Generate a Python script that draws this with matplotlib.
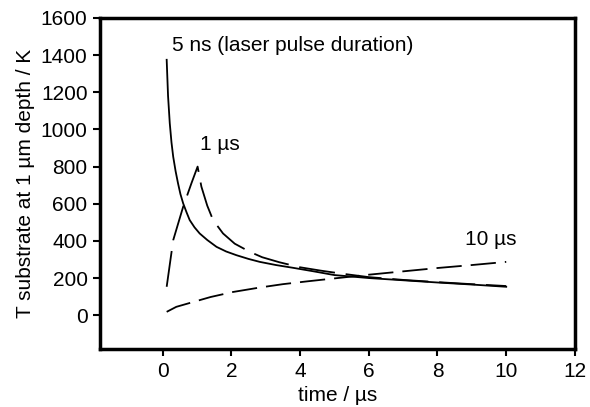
import numpy as np
import matplotlib.pyplot as plt

plt.rcParams['font.family'] = ['Liberation Sans', 'DejaVu Sans']

# 5 ns (laser pulse duration)
x_5ns = [0.12, 0.16, 0.21, 0.26, 0.31, 0.38, 0.45, 0.52, 0.6, 0.7, 0.79, 0.93, 1.08, 1.3, 1.57, 1.85,
         2.15, 2.5, 2.83, 3.3, 3.8, 4.4, 5.0, 6.0, 7.0, 8.0, 9.0, 10.0]
T_5ns = [1375, 1180, 1033, 930, 853, 775, 710, 652, 602, 553, 512, 473, 440, 405, 368, 343,
         323, 303, 287, 270, 255, 236, 216, 200, 188, 176, 165, 153]

# 1 us
x_1us = [0.12, 0.31, 0.6, 0.84, 1.02, 1.13, 1.3, 1.47, 1.76, 2.1, 2.54, 2.9, 3.4, 4.0, 4.6, 5.2,
         6.0, 7.0, 8.0, 9.0, 10.0]
T_1us = [153, 404, 584, 710, 800, 692, 590, 512, 440, 385, 341, 312, 285, 258, 240, 224,
         205, 190, 178, 167, 157]

# 10 us
x_10us = [0.12, 0.4, 0.89, 1.4, 2.05, 2.83, 3.5, 4.2, 5.0, 6.0, 7.0, 8.0, 9.0, 10.0]
T_10us = [18, 45, 71, 98, 125, 149, 167, 182, 198, 218, 236, 254, 270, 287]

xticks = [0, 2, 4, 6, 8, 10, 12]
yticks = [0, 200, 400, 600, 800, 1000, 1200, 1400, 1600]

fig = plt.figure(figsize=(5.9, 4.07), dpi=100)
ax = fig.add_axes([0.1695, 0.1425, 0.805, 0.8133])

ax.plot(x_5ns, T_5ns, color='black', lw=1.3)
ax.plot(x_1us, T_1us, color='black', lw=1.3, dashes=(20, 6))
ax.plot(x_10us, T_10us, color='black', lw=1.3, dashes=(14, 5))

ax.text(0.27, 1422, '5 ns (laser pulse duration)', fontsize=15)
ax.text(1.08, 889, '1 µs', fontsize=15)
ax.text(8.79, 377, '10 µs', fontsize=15)

ax.set_xlim(-1.82, 12)
ax.set_ylim(-182, 1600)
ax.set_xticks(xticks)
ax.set_yticks(yticks)
ax.tick_params(direction='out', length=5, width=1.5, labelsize=15, pad=4)
for s in ax.spines.values():
    s.set_linewidth(2.5)

ax.set_xlabel('time / µs', fontsize=15, labelpad=4)
ax.set_ylabel('T substrate at 1 µm depth / K', fontsize=15, labelpad=4)

fig.savefig('out.png', dpi=100)
